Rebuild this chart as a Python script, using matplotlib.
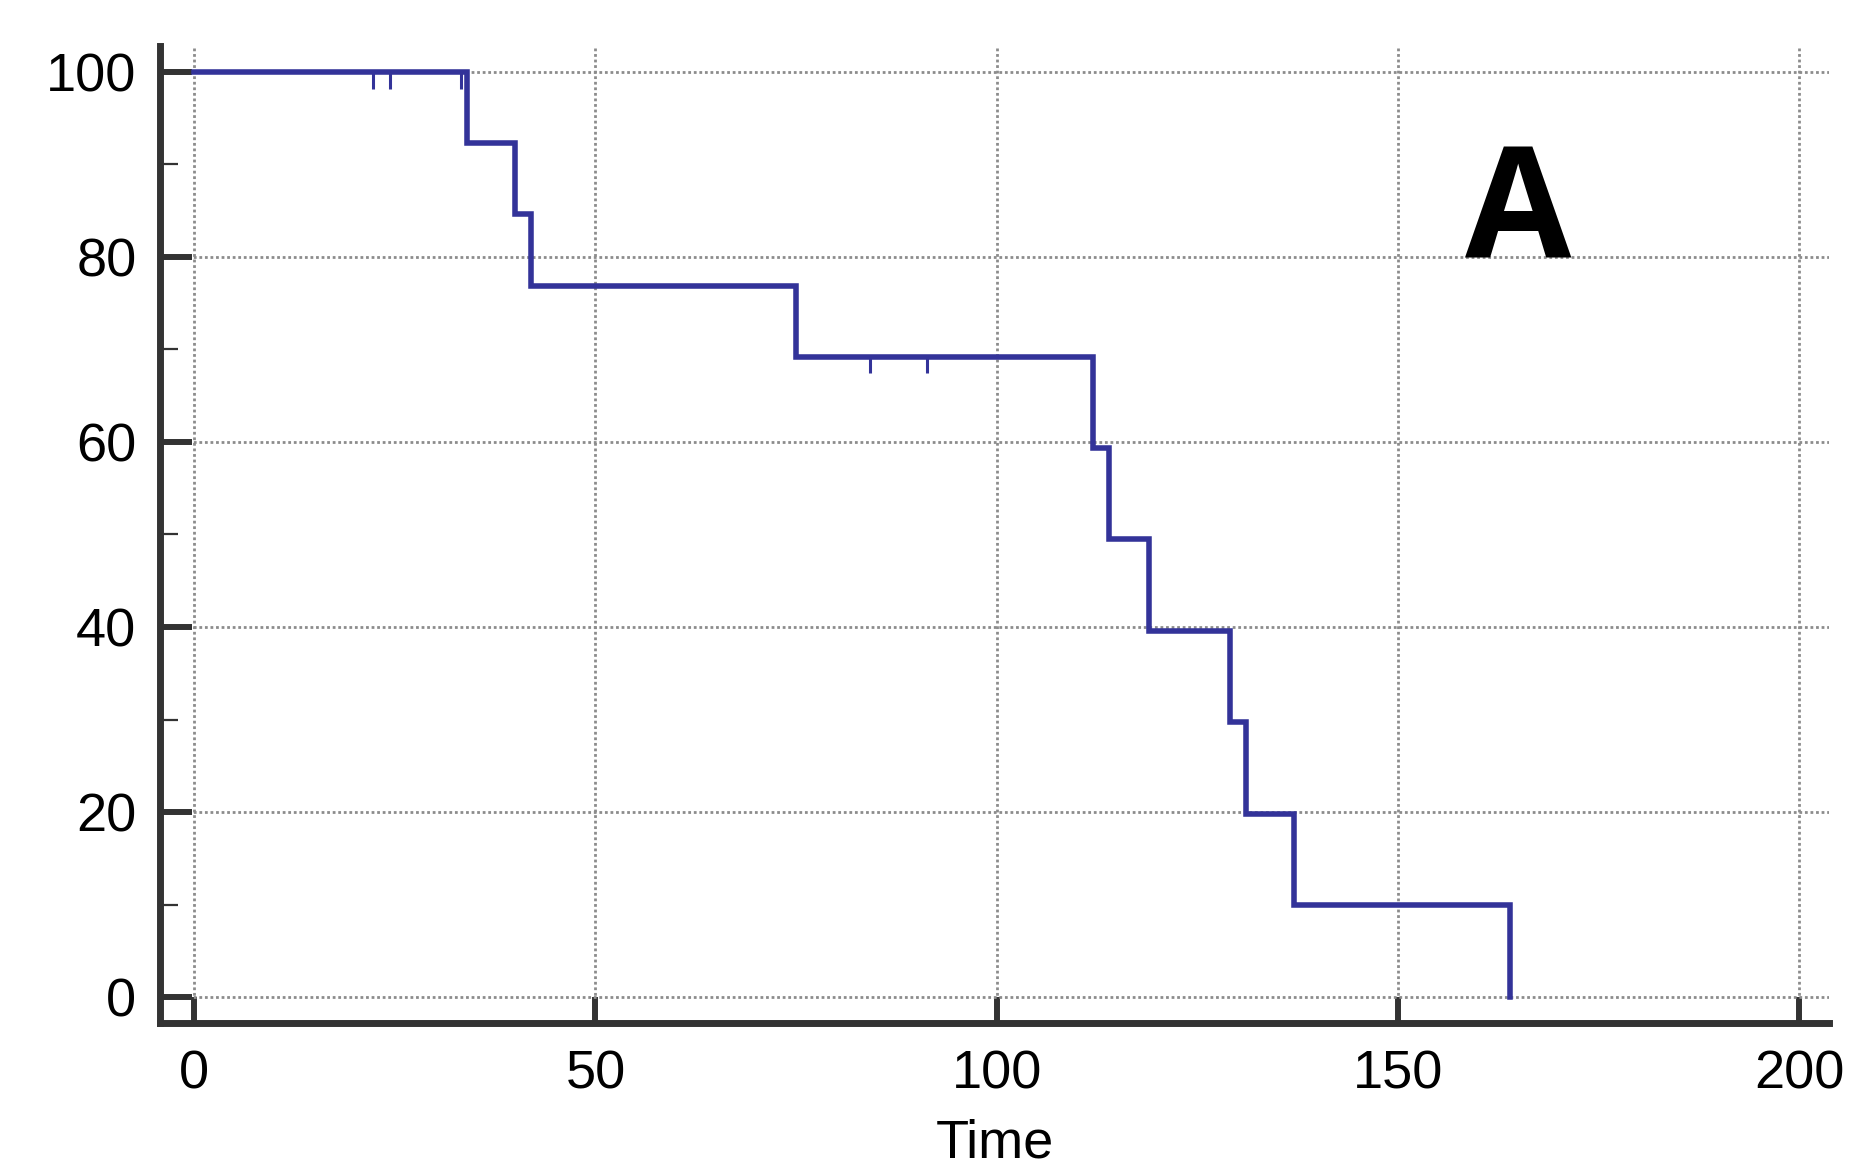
import numpy as np
import matplotlib
matplotlib.use('Agg')
import matplotlib.pyplot as plt
from matplotlib.ticker import MultipleLocator

# === Data ===
event_times = [0, 34, 40, 42, 75, 112, 114, 119, 129, 131, 137, 164]
survival = [100, 92.3, 84.6, 76.9, 69.2, 59.3, 49.5, 39.6, 29.7, 19.8, 9.9, 0]
censor_times = [22.3, 24.4, 33.2, 84.2, 91.3]
censor_surv = [100, 100, 100, 69.2, 69.2]
xticks = [0, 50, 100, 150, 200]
yticks = [0, 20, 40, 60, 80, 100]

line_col = '#333399'
axis_col = '#333333'

plt.rcParams['font.family'] = ['Liberation Sans', 'DejaVu Sans']

fig = plt.figure(figsize=(18.57, 11.70), dpi=100)
ax = fig.add_axes([0.0862, 0.1256, 0.985 - 0.0862, 0.9607 - 0.1256])

# step curve: horizontal until next event, then drop
xs = [event_times[0]]; ys = [survival[0]]
for i in range(1, len(event_times)):
    xs += [event_times[i], event_times[i]]
    ys += [survival[i-1], survival[i]]
ax.plot(xs, ys, color=line_col, lw=4.0, solid_joinstyle='miter', zorder=3)

# censor marks (small downward ticks)
ax.vlines(censor_times, np.array(censor_surv) - 1.8, censor_surv,
          color=line_col, lw=2.2, zorder=3)

ax.set_xlim(-4.24, 203.7)
ax.set_ylim(-2.81, 102.8)
ax.set_xticks(xticks)
ax.set_yticks(yticks)
ax.yaxis.set_minor_locator(MultipleLocator(10))

ax.grid(True, which='major', color='#8c8c8c', lw=2.0, ls=(0, (1, 1)), zorder=0)

for s in ['top', 'right']:
    ax.spines[s].set_visible(False)
for s in ['left', 'bottom']:
    ax.spines[s].set_color(axis_col)
    ax.spines[s].set_linewidth(5)

ax.tick_params(axis='y', which='major', direction='in', length=23, width=4.3,
               color=axis_col, labelsize=39, pad=17)
ax.tick_params(axis='y', which='minor', direction='in', length=13, width=1.6,
               color=axis_col)
ax.tick_params(axis='x', which='major', direction='in', length=19, width=4.3,
               color=axis_col, labelsize=39, pad=19)

ax.set_xlabel('Time', fontsize=39, labelpad=14)

ax.text(165, 79.9, 'A', ha='center', va='baseline', fontsize=111,
        fontweight='bold', family=['Open Sans', 'DejaVu Sans'], zorder=4)

plt.savefig('out.png', dpi=100)
